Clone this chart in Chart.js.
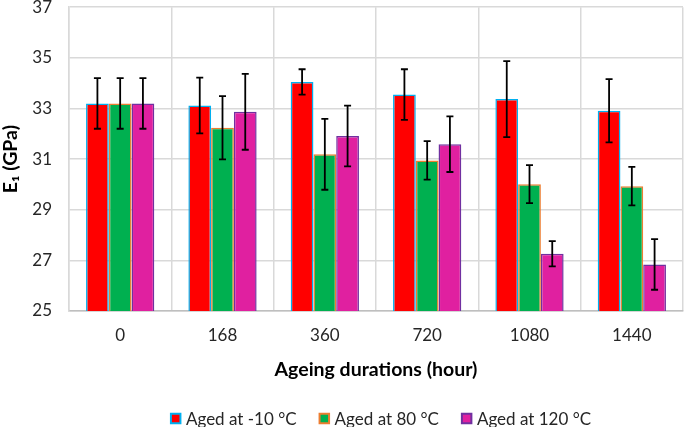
<!DOCTYPE html>
<html>
<head>
<meta charset="utf-8">
<script src="https://cdn.jsdelivr.net/npm/chart.js@4.4.0/dist/chart.umd.min.js"></script>
<style>
  html, body { margin: 0; padding: 0; background: #fff; }
  #wrap { width: 685px; height: 427px; }
</style>
</head>
<body>
<div id="wrap"><canvas id="chart"></canvas></div>
<script>
// --- DATA ---
const hours = ['0', '168', '360', '720', '1080', '1440'];
const agedMinus10 = [33.2, 33.12, 34.05, 33.55, 33.37, 32.91];
const aged80 = [33.2, 32.24, 31.19, 30.95, 30.01, 29.93];
const aged120 = [33.2, 32.87, 31.91, 31.59, 27.26, 26.84];
const errMinus10 = [1.0, 1.1, 0.5, 1.0, 1.5, 1.25];
const err80 = [1.0, 1.25, 1.4, 0.76, 0.75, 0.76];
const err120 = [1.0, 1.5, 1.2, 1.1, 0.5, 1.0];
const yMin = 25, yMax = 37, yStep = 2;

const errors = [errMinus10, err80, err120];
const gridColor = '#d9d9d9';
const textColor = '#262626';
const fontFamily = 'Lato, "Open Sans", sans-serif';

// --- ERROR BARS ---
const errorBars = {
    id: 'errorBars',
    afterDatasetsDraw(chart) {
        const ctx = chart.ctx;
        const y = chart.scales.y;
        ctx.save();
        ctx.strokeStyle = '#000';
        ctx.lineWidth = 1.8;
        chart.data.datasets.forEach((ds, i) => {
            chart.getDatasetMeta(i).data.forEach((bar, j) => {
                const v = ds.data[j], e = errors[i][j];
                const top = y.getPixelForValue(v + e);
                const bot = y.getPixelForValue(v - e);
                ctx.beginPath();
                ctx.moveTo(bar.x, top); ctx.lineTo(bar.x, bot);
                ctx.moveTo(bar.x - 3.5, top); ctx.lineTo(bar.x + 3.5, top);
                ctx.moveTo(bar.x - 3.5, bot); ctx.lineTo(bar.x + 3.5, bot);
                ctx.stroke();
            });
        });
        ctx.restore();
    }
};

// --- LEGEND (drawn below the axis title, Excel style) ---
const bottomLegend = {
    id: 'bottomLegend',
    afterDraw(chart) {
        const ctx = chart.ctx;
        const box = 11.5, gapText = 4.5, gapItem = 22, textY = 418.5;
        ctx.save();
        ctx.font = '17px ' + fontFamily;
        ctx.textBaseline = 'middle';
        const items = chart.data.datasets.map(ds => ({ ds, w: ctx.measureText(ds.label).width }));
        const total = items.reduce((s, it) => s + box + gapText + it.w, 0) + gapItem * (items.length - 1);
        let x = 380.5 - total / 2;
        items.forEach(it => {
            ctx.fillStyle = it.ds.borderColor;
            ctx.fillRect(x, textY - box / 2, box, box);
            ctx.fillStyle = it.ds.backgroundColor;
            ctx.fillRect(x + 2, textY - box / 2 + 2, box - 4, box - 4);
            x += box + gapText;
            ctx.fillStyle = textColor;
            ctx.fillText(it.ds.label, x, textY + 1);
            x += it.w + gapItem;
        });
        ctx.restore();
    }
};

new Chart(document.getElementById('chart'), {
    type: 'bar',
    data: {
        labels: hours,
        datasets: [
            { label: 'Aged at -10 °C', data: agedMinus10, backgroundColor: '#ff0000', borderColor: '#00b0f0', borderWidth: 1.5 },
            { label: 'Aged at 80 °C', data: aged80, backgroundColor: '#00b050', borderColor: '#ed7d31', borderWidth: 1.5 },
            { label: 'Aged at 120 °C', data: aged120, backgroundColor: '#e020a0', borderColor: '#7030a0', borderWidth: 1.5 }
        ]
    },
    options: {
        responsive: true,
        maintainAspectRatio: false,
        animation: false,
        layout: { padding: { top: 0, right: 2, left: 0, bottom: 0 } },
        datasets: { bar: { barPercentage: 1, categoryPercentage: 0.667 } },
        plugins: {
            tooltip: { enabled: false },
            legend: { display: false }
        },
        scales: {
            x: {
                afterFit: scale => { scale.height = 116; },
                grid: { color: gridColor, lineWidth: 1.5, drawTicks: false },
                border: { color: '#bfbfbf', width: 1.5 },
                ticks: { color: textColor, font: { family: fontFamily, size: 17 }, padding: 14.5 },
                title: {
                    display: true,
                    text: 'Ageing durations (hour)',
                    color: '#000',
                    font: { family: fontFamily, size: 19.5, weight: 'bold' },
                    padding: { top: 0, bottom: 46 }
                }
            },
            y: {
                min: yMin,
                max: yMax,
                afterFit: scale => { scale.width = 69; },
                grid: { color: gridColor, lineWidth: 1.5, drawTicks: true, tickLength: 17, tickColor: 'rgba(0,0,0,0)' },
                border: { color: gridColor, width: 1.5 },
                ticks: { stepSize: yStep, color: textColor, font: { family: fontFamily, size: 17, lineHeight: 0.85 }, padding: 0 },
                title: {
                    display: true,
                    text: 'E\u2081 (GPa)',
                    color: '#000',
                    font: { family: fontFamily, size: 19.5, weight: 'bold' },
                    padding: { top: -1, bottom: 6 }
                }
            }
        }
    },
    plugins: [errorBars, bottomLegend]
});
</script>
</body>
</html>
